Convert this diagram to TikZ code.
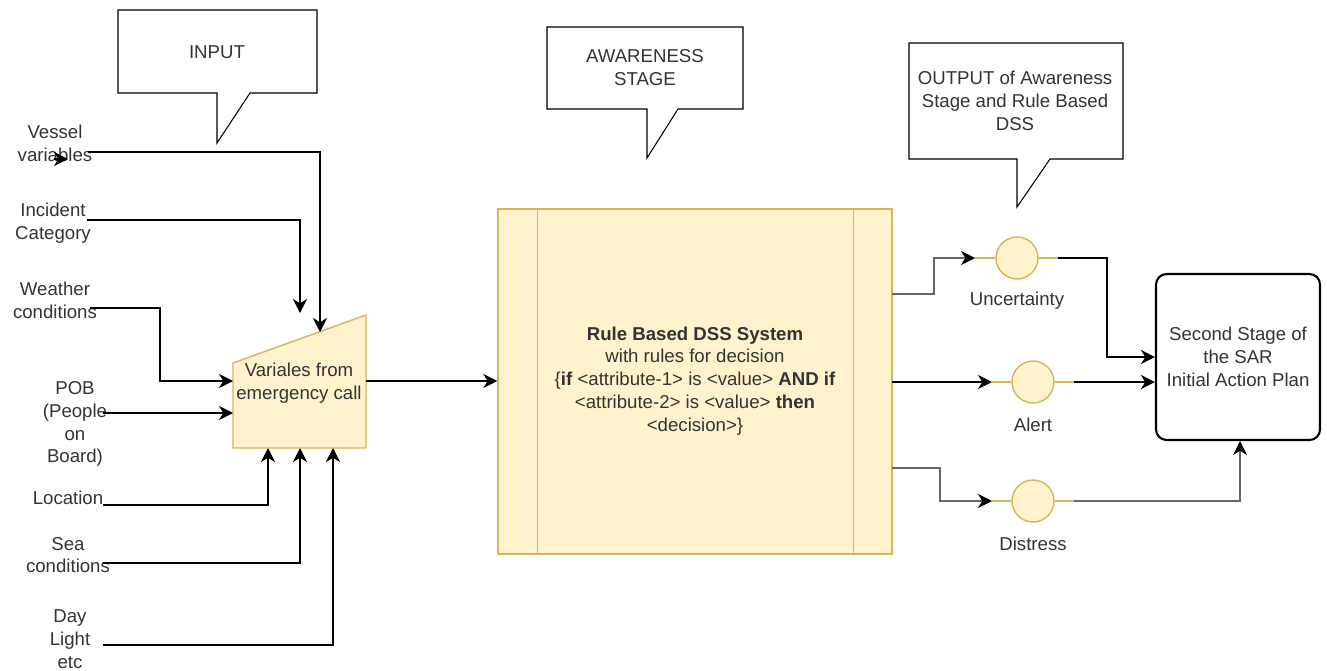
\documentclass[tikz,border=0pt]{standalone}
\usepackage{fontspec}
\setmainfont{Liberation Sans}
\usetikzlibrary{arrows.meta,positioning}
\definecolor{notefill}{HTML}{FFF2CC}
\definecolor{notedraw}{HTML}{D6B656}
\definecolor{txt}{HTML}{333333}

\tikzset{
  lbl/.style={align=center,inner sep=0pt,text=txt,font=\fontsize{10.6}{13}\selectfont},
  arr/.style={-{Stealth[length=8pt,width=8pt,inset=2.5pt,color=black]},line width=0.6pt},
  greyarr/.style={arr,draw=black!60},
  yellowbox/.style={draw=notedraw,fill=notefill,line width=0.8pt},
  outdot/.style={circle,yellowbox,inner sep=0pt,minimum size=0.84cm},
  stub/.style={draw=notedraw,line width=0.8pt},
  callout/.style={draw,line width=0.6pt,fill=white}
}

\begin{document}
\begin{tikzpicture}[x=0.02cm,y=-0.02cm]
  \useasboundingbox (0,0) rectangle (1327,670);

  % callouts
  \draw[callout] (118,10) -- (317,10) -- (317,93) -- (250,93) -- (217,143) -- (217,93) -- (118,93) -- cycle;
  \node[lbl] (input) at (217,52) {INPUT};
  \draw[callout] (547,27) -- (743,27) -- (743,109) -- (678,109) -- (647,158) -- (647,109) -- (547,109) -- cycle;
  \node[lbl] (aware) at (645,68) {AWARENESS\\STAGE};
  \draw[callout] (909,43) -- (1123,43) -- (1123,159) -- (1050,159) -- (1017,207) -- (1017,159) -- (909,159) -- cycle;
  \node[lbl] (output) at (1015,101) {OUTPUT of Awareness\\Stage and Rule Based\\DSS};

  % manual input: variables from the call
  \draw[yellowbox] (233,363) -- (366,315) -- (366,448) -- (233,448) -- cycle;
  \node[lbl] (call) at (299,383) {Variales from\\emergency call};
  \coordinate (call-e) at (366,381);
  \coordinate (call-t1) at (320,332);
  \coordinate (call-t2) at (300,313);
  \coordinate (call-w1) at (233,381);
  \coordinate (call-w2) at (233,413);
  \coordinate (call-b1) at (268,448);
  \coordinate (call-b2) at (300,448);
  \coordinate (call-b3) at (333,448);

  % input variables
  \node[lbl] (vessel) at (55,143) {Vessel\\variables};
  \node[lbl] (incident) at (53,223) {Incident\\Category};
  \node[lbl] (weather) at (55,300) {Weather\\conditions};
  \node[lbl] (pob) at (75,424) {POB\\(People\\on\\Board)};
  \node[lbl] (location) at (68,498) {Location};
  \node[lbl] (sea) at (68,555) {Sea\\conditions};
  \node[lbl] (day) at (70,639) {Day\\Light\\etc};
  \coordinate (vessel-out) at (88,152);
  \coordinate (vessel-a) at (54,159);
  \coordinate (vessel-b) at (68,159);
  \coordinate (incident-out) at (87,220);
  \coordinate (weather-out) at (90,308);
  \coordinate (pob-out) at (103,413);
  \coordinate (location-out) at (103,505);
  \coordinate (sea-out) at (103,563);
  \coordinate (day-out) at (103,645);

  \draw[arr] (vessel-a) -- (vessel-b);
  \draw[arr] (vessel-out) -| (call-t1);
  \draw[arr] (incident-out) -| (call-t2);
  \draw[arr] (weather-out) -- (160,308) |- (call-w1);
  \draw[arr] (pob-out) -- (call-w2);
  \draw[arr] (location-out) -| (call-b1);
  \draw[arr] (sea-out) -| (call-b2);
  \draw[arr] (day-out) -| (call-b3);

  % rule based DSS
  \node[yellowbox,minimum width=7.88cm,minimum height=6.9cm,inner sep=0pt] (dss) at (695,381.5) {};
  \draw[stub] ([xshift=0.8cm]dss.north west) -- ([xshift=0.8cm]dss.south west);
  \draw[stub] ([xshift=-0.78cm]dss.north east) -- ([xshift=-0.78cm]dss.south east);
  \node[lbl] (rules) at (695,381) {\textbf{Rule Based DSS System}\\with rules for decision\\\{\textbf{if} <attribute-1> is <value> \textbf{AND if}\\<attribute-2> is <value> \textbf{then}\\<decision>\}};
  \draw[arr] (call-e) -- (dss.west |- call-e);

  % outputs
  \node[outdot] (unc) at (1017,258) {};
  \node[outdot] (alert) at (1033,382) {};
  \node[outdot] (dis) at (1033,501) {};
  \node[lbl] (unc-lbl) at (1017,301) {Uncertainty};
  \node[lbl] (alert-lbl) at (1033,425) {Alert};
  \node[lbl] (dis-lbl) at (1033,544) {Distress};
  \coordinate (unc-in) at (975,258);
  \coordinate (unc-out) at (1058,258);
  \coordinate (alert-in) at (992,382);
  \coordinate (alert-out) at (1074,382);
  \coordinate (dis-in) at (992,501);
  \coordinate (dis-out) at (1074,501);
  \draw[stub] (unc-in) -- (unc.west) (unc.east) -- (unc-out);
  \draw[stub] (alert-in) -- (alert.west) (alert.east) -- (alert-out);
  \draw[stub] (dis-in) -- (dis.west) (dis.east) -- (dis-out);

  \coordinate (dss-o1) at (892,294);
  \coordinate (dss-o2) at (892,382);
  \coordinate (dss-o3) at (892,468);
  \draw[greyarr] (dss-o1) -- (934,294) |- (unc-in);
  \draw[arr] (dss-o2) -- (alert-in);
  \draw[greyarr] (dss-o3) -- (940,468) |- (dis-in);

  % second stage
  \node[draw,rounded corners=6pt,line width=1.2pt,minimum width=3.28cm,minimum height=3.32cm,inner sep=0pt] (plan) at (1238,357) {};
  \node[lbl] (plan-txt) at (1238,357) {Second Stage of\\the SAR\\Initial Action Plan};
  \draw[arr] (unc-out) -- (1107,258) |- (plan.west |- 0,357);
  \draw[arr] (alert-out) -- (plan.west |- alert-out);
  \draw[greyarr] (dis-out) -| (plan.south -| 1240,0);
\end{tikzpicture}
\end{document}
